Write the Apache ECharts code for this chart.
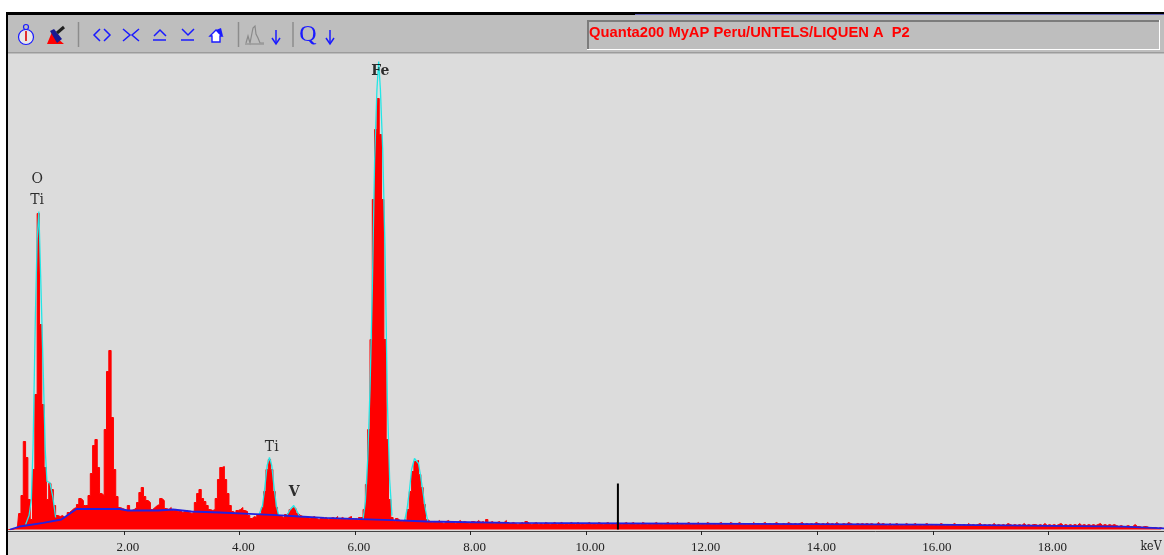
<!DOCTYPE html>
<html><head><meta charset="utf-8">
<style>html,body{margin:0;padding:0;background:#fff}#c{width:1164px;height:555px}</style>
<script src="https://cdn.jsdelivr.net/npm/echarts@6/dist/echarts.min.js"></script>
</head><body><div id="c"></div>
<script>
// EDS spectrum: counts per 0.04 keV channel
const channelKeV = 0.04;
const spectrumCounts = [
 0,0,0,1,3,16,34,88,72,30,10,60,135,316,205,125,62,30,46,40,
 24,14,13,14,12,14,17,19,21,22,25,31,29,24,24,34,56,84,90,62,
 36,34,100,158,179,112,60,33,22,21,20,19,24,19,20,22,27,37,42,33,
 29,27,20,22,24,25,31,29,21,20,22,19,20,18,19,17,18,19,17,16,
 18,27,36,40,31,28,24,20,19,20,31,50,62,63,50,36,24,18,16,19,
 20,22,19,18,14,11,13,12,15,16,22,38,60,70,60,38,22,14,13,11,
 15,17,20,22,21,16,14,13,12,13,11,12,13,11,10,12,11,12,10,11,
 12,11,13,10,12,11,10,12,13,10,11,9,12,12,20,45,100,190,330,400,
 431,395,330,190,90,30,12,8,11,9,8,10,9,20,38,58,68,69,55,42,
 25,10,8,7,8,7,9,7,6,8,9,7,8,6,7,9,7,8,7,6,
 8,8,7,9,7,8,6,10,7,8,6,7,8,6,7,9,6,6,7,6,
 5,6,7,5,8,6,5,6,7,5,6,5,7,6,5,6,7,5,6,7,
 5,6,5,7,6,5,7,5,6,5,6,7,5,6,5,7,6,5,6,7,
 5,6,5,7,6,5,6,7,5,6,7,5,6,5,7,6,5,6,5,6,
 7,5,6,5,6,7,5,6,5,7,5,6,5,6,7,5,6,5,7,5,
 6,5,7,6,5,6,5,6,7,5,6,5,7,6,5,6,7,5,6,5,
 6,5,7,5,6,5,6,7,5,6,5,6,7,5,5,6,5,7,6,5,
 6,5,6,7,5,6,5,6,5,7,6,5,6,5,7,5,6,5,7,5,
 5,6,5,7,6,5,5,6,5,6,5,6,5,6,5,5,7,5,6,5,
 4,6,4,5,6,4,5,4,6,5,4,5,6,4,5,4,5,6,4,5,
 4,5,4,6,5,4,5,4,5,6,4,5,4,5,4,6,4,5,4,5,
 6,4,5,4,5,4,6,4,5,4,5,4,6,5,4,5,4,5,4,6,
 4,5,4,5,5,4,5,4,6,4,5,4,5,4,5,6,4,5,4,5,
 4,5,4,6,4,5,4,5,4,5,4,5,6,4,5,4,5,4,5,4,
 3,4,3,3,4,3,3,5,3,3,2,3,3,2,1,2,2,1,2,1,1
];
const backgroundKeV = [0.03,0.2,0.606,0.92,1.18,1.93,2.07,2.59,2.62,2.85,2.88,3.17,3.2,3.66,3.69,4.18,4.21,4.64,4.66,5.04,5.06,5.47,5.5,5.96,5.98,6.63,6.65,7.25,7.27,8.67,8.69,15.98,16.0,19.3,19.32,20];
const backgroundCounts = [0,3,6.7,10,20.5,20.5,19,19,20.5,20,18,18,17,17,15.7,15.7,14.3,14.3,13,13,11.7,11.7,10.7,10.7,9.3,9.3,8,8,6.7,6.7,5.3,4.8,2.8,2.8,1.2,1.2];
const fitSegments = [
 [[0.3,5],[0.36,14],[0.4,30],[0.43,85],[0.47,215],[0.5,290],[0.53,318],[0.56,255],[0.6,170],[0.64,80],[0.67,48],[0.72,47],[0.77,33],[0.82,12]],
 [[4.34,15],[4.4,24],[4.44,42],[4.48,64],[4.52,72],[4.56,64],[4.6,42],[4.64,24],[4.68,14]],
 [[4.82,14],[4.88,20],[4.94,24],[5.0,18],[5.04,13]],
 [[6.14,10],[6.18,28],[6.22,70],[6.26,140],[6.3,240],[6.34,370],[6.38,440],[6.41,468],[6.44,440],[6.48,380],[6.52,280],[6.56,130],[6.6,50],[6.64,14]],
 [[6.86,9],[6.9,20],[6.94,38],[6.98,60],[7.03,71],[7.06,71],[7.1,66],[7.14,52],[7.18,36],[7.22,20],[7.26,8]]
];
const cursorKeV = 10.55;
const cursorCounts = 46;
const peakNames = ['O','Ti','Fe','Ti','V'];
const peakKeV = [0.5,0.5,6.44,4.56,4.95];
const peakLabelCounts = [350,329.5,458,82,37];
const tickValues = [2,4,6,8,10,12,14,16,18];
const titleText = 'Quanta200 MyAP Peru/UNTELS/LIQUEN A  P2';
const unitText = 'keV';

const blue = '#1a1aff';
const fitData = [];
fitSegments.forEach(s => { s.forEach(p => fitData.push(p)); fitData.push([null, null]); });
const line = (x1,y1,x2,y2,color,w) => ({type:'line',silent:true,shape:{x1,y1,x2,y2},style:{stroke:color,lineWidth:w||1.5,fill:null}});
const poly = (points,color,w) => ({type:'polyline',silent:true,shape:{points},style:{stroke:color,lineWidth:w||1.5,fill:null}});
const rect = (x,y,width,height,fill) => ({type:'rect',silent:true,z:-1,shape:{x,y,width,height},style:{fill}});

const chrome = [
 rect(0,0,1164,555,'#dcdcdc'),
 rect(0,0,1164,12,'#ffffff'),
 rect(0,0,6,555,'#ffffff'),
 rect(6,12,1158,3,'#000000'),
 rect(6,12,2,543,'#000000'),
 rect(8,15,1156,38,'#bebebe'),
 rect(8,52,1156,1.5,'#9c9c9c'),
 rect(635,14,529,1,'#6060b0'),
 // title box
 rect(587,20,573,30,'#ffffff'),
 rect(587,20,572,2,'#7c7c7c'),
 rect(587,20,2,29,'#7c7c7c'),
 rect(589,22,570,27,'#bebebe'),
 {type:'text',silent:true,x:589,y:32.5,scaleX:0.95,style:{x:0,y:0,text:titleText,fill:'#ff0000',font:'bold 15.5px "Liberation Sans"',verticalAlign:'middle',align:'left'}},
 // stopwatch
 {type:'circle',silent:true,shape:{cx:26,cy:37,r:7.5},style:{fill:'#e8e8e8',stroke:blue,lineWidth:1.2}},
 {type:'circle',silent:true,shape:{cx:26,cy:27,r:2.5},style:{fill:'#bebebe',stroke:blue,lineWidth:1.2}},
 line(26,31,26,41,'#e00000',1.6),
 // brush
 {type:'polygon',silent:true,shape:{points:[[47,44],[52,32],[57,38],[64,44]]},style:{fill:'#ff0000'}},
 {type:'polygon',silent:true,shape:{points:[[50,31],[54,29],[62,39],[57,43]]},style:{fill:'#1a1a90'}},
 line(57,33,64,27,'#202020',3),
 // separators
 line(78.5,22,78.5,47,'#8c8c8c',1.5),
 line(238.5,22,238.5,47,'#8c8c8c',1.5),
 line(293,22,293,47,'#8c8c8c',1.5),
 // navigation icons
 poly([[100,29],[94,35],[100,41]],blue), poly([[104,29],[110,35],[104,41]],blue),
 poly([[123,29],[130,35],[123,41]],blue), poly([[139,29],[132,35],[139,41]],blue),
 poly([[154,36],[160,30],[166,36]],blue), line(153,40,166,40,blue),
 poly([[182,29],[188,35],[194,29]],blue), line(181,40,194,40,blue),
 {type:'polygon',silent:true,shape:{points:[[210,36],[216,30],[222,36],[220,36],[220,42],[212,42],[212,36]]},style:{fill:'#ffffff',stroke:blue,lineWidth:1.4}},
 {type:'polygon',silent:true,shape:{points:[[216,30],[221,28],[223,36],[219,34]]},style:{fill:blue}},
 // mini spectrum
 poly([[246,43],[248,36],[250,43],[252,33],[253,28],[255,26],[256,34],[258,38],[260,43],[264,43]],'#8a8a8a',1.2),
 line(245,44,264,44,'#999999',1.5),
 poly([[276,30],[276,43]],blue), poly([[272,38],[276,44],[280,38]],blue),
 {type:'text',silent:true,x:308,y:35,style:{x:0,y:0,text:'Q',fill:blue,font:'24px "Liberation Serif"',align:'center',verticalAlign:'middle'}},
 poly([[330,30],[330,43]],blue), poly([[326,38],[330,44],[334,38]],blue),
 {type:'text',silent:true,x:1151,y:547,style:{x:0,y:0,text:unitText,fill:'#222',font:'13px "DejaVu Serif"',align:'center',verticalAlign:'middle'},scaleX:0.85}
];

const option = {
 animation:false,
 backgroundColor:'#dcdcdc',
 graphic:chrome,
 grid:{left:8.25,right:-1.75,top:53.5,bottom:25.5,containLabel:false},
 xAxis:{type:'value',min:0,max:20,offset:1.5,
  axisLine:{onZero:false,lineStyle:{color:'#444',width:1}},
  axisTick:{show:true,length:4,customValues:tickValues,lineStyle:{color:'#222',width:1}},
  axisLabel:{customValues:tickValues,formatter:v=>v.toFixed(2),margin:10,color:'#222',padding:[0,0,0,8],
   fontFamily:'"Liberation Serif"',fontSize:13},
  splitLine:{show:false}},
 yAxis:{type:'value',min:0,max:476,show:false,splitLine:{show:false}},
 series:[
  {type:'line',name:'Spectrum',step:'middle',showSymbol:false,z:2,clip:true,
   data:spectrumCounts.map((v,i)=>[i*channelKeV,v]),
   lineStyle:{color:'#ff0000',width:1},areaStyle:{color:'#ff0000',opacity:1}},
  {type:'line',name:'Fit',showSymbol:false,z:3,connectNulls:false,data:fitData,
   lineStyle:{color:'#22e6e6',width:1.3}},
  {type:'line',name:'Background',showSymbol:false,z:4,
   data:backgroundKeV.map((k,i)=>[k,backgroundCounts[i]]),
   lineStyle:{color:'#2222e0',width:1.8}},
  {type:'line',name:'Cursor',showSymbol:false,z:5,
   data:[[cursorKeV,0],[cursorKeV,cursorCounts]],
   lineStyle:{color:'#000',width:2}},
  {type:'scatter',name:'Peaks',symbolSize:1,itemStyle:{color:'transparent'},z:6,
   data:peakNames.map((n,i)=>({name:n,value:[peakKeV[i],peakLabelCounts[i]],
     label:{fontWeight:(n==='Fe'||n==='V')?'bold':'500'}})),
   label:{show:true,position:'inside',formatter:'{b}',color:'#000',textBorderWidth:0,
    fontFamily:'"DejaVu Serif"',fontSize:14}}
 ]
};
echarts.init(document.getElementById('c'),null,{renderer:'canvas'}).setOption(option);
</script></body></html>
